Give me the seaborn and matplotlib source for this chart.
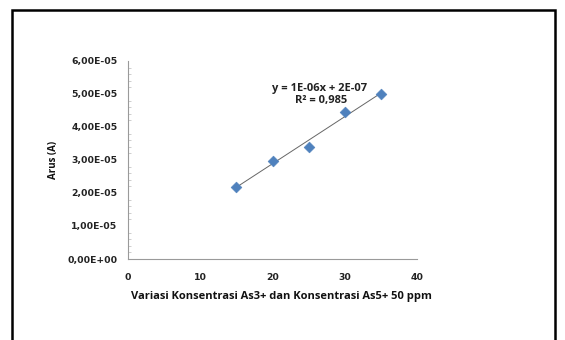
import numpy as np
import pandas as pd
import seaborn as sns
import matplotlib
matplotlib.use("Agg")
import matplotlib.pyplot as plt
from matplotlib.ticker import FuncFormatter, MultipleLocator
from matplotlib.patches import Rectangle

# Arsenic concentration variation (ppm) vs measured current (A)
konsentrasi = [15, 20, 25, 30, 35]
arus = [2.17e-05, 2.98e-05, 3.40e-05, 4.45e-05, 5.00e-05]
x_ticks = [0, 10, 20, 30, 40]
y_ticks = [0, 1e-05, 2e-05, 3e-05, 4e-05, 5e-05, 6e-05]
persamaan = "y = 1E-06x + 2E-07"
r_kuadrat = "R² = 0,985"

df = pd.DataFrame({"konsentrasi": konsentrasi, "arus": arus})

sns.set_theme(style="white")
plt.rcParams["font.family"] = ["Open Sans", "DejaVu Sans"]

fig = plt.figure(figsize=(5.65, 3.4), dpi=100)
fig.patch.set_facecolor("white")

# outer chart frame
fig.add_artist(Rectangle((12 / 565, -0.1), (555 - 12) / 565, 1.1 - 10 / 340,
                         transform=fig.transFigure, fill=False,
                         edgecolor="black", linewidth=1.8))

ax = fig.add_axes([128 / 565, 1 - 259 / 340, (417 - 128) / 565, (259 - 61) / 340])

sns.regplot(data=df, x="konsentrasi", y="arus", ax=ax, ci=None, truncate=True,
            scatter=False, line_kws={"color": "#666666", "linewidth": 0.7})
sns.scatterplot(data=df, x="konsentrasi", y="arus", ax=ax, marker="D",
                color="#4F81BD", edgecolor="#4F81BD", s=30, zorder=3)

ax.set_xlim(0, 40)
ax.set_ylim(0, 6e-05)
ax.set_xticks(x_ticks)
ax.set_yticks(y_ticks)
ax.yaxis.set_minor_locator(MultipleLocator(2e-06))
ax.yaxis.set_major_formatter(FuncFormatter(lambda v, p: f"{v:.2E}".replace(".", ",")))

for side in ["top", "right"]:
    ax.spines[side].set_visible(False)
for side in ["left", "bottom"]:
    ax.spines[side].set_color("#9a9a9a")
    ax.spines[side].set_linewidth(0.8)

ax.tick_params(axis="both", which="major", direction="out", length=4, width=0.7,
               color="#9a9a9a", labelsize=6.7, labelcolor="#222222")
ax.tick_params(axis="y", which="minor", direction="in", length=2, width=0.5,
               color="#bbbbbb", left=True)
ax.tick_params(axis="x", which="major", pad=6)
for lbl in ax.get_xticklabels() + ax.get_yticklabels():
    lbl.set_fontweight("bold")
    lbl.set_family("DejaVu Sans")

ax.set_xlabel("Variasi Konsentrasi As3+ dan Konsentrasi As5+ 50 ppm",
              fontsize=8, fontweight="bold", color="#111111")
ax.xaxis.set_label_coords((281 - 128) / (417 - 128), -0.16)
ax.set_ylabel("Arus (A)", fontsize=7, fontweight="bold", color="#111111", labelpad=6)

ax.text(320 / 565, 1 - 88 / 340, persamaan, transform=fig.transFigure,
        ha="center", va="center", fontsize=8, fontweight="bold", color="#222222")
ax.text(321 / 565, 1 - 100 / 340, r_kuadrat, transform=fig.transFigure,
        ha="center", va="center", fontsize=8, fontweight="bold", color="#222222")

fig.savefig("out.png", dpi=100)
